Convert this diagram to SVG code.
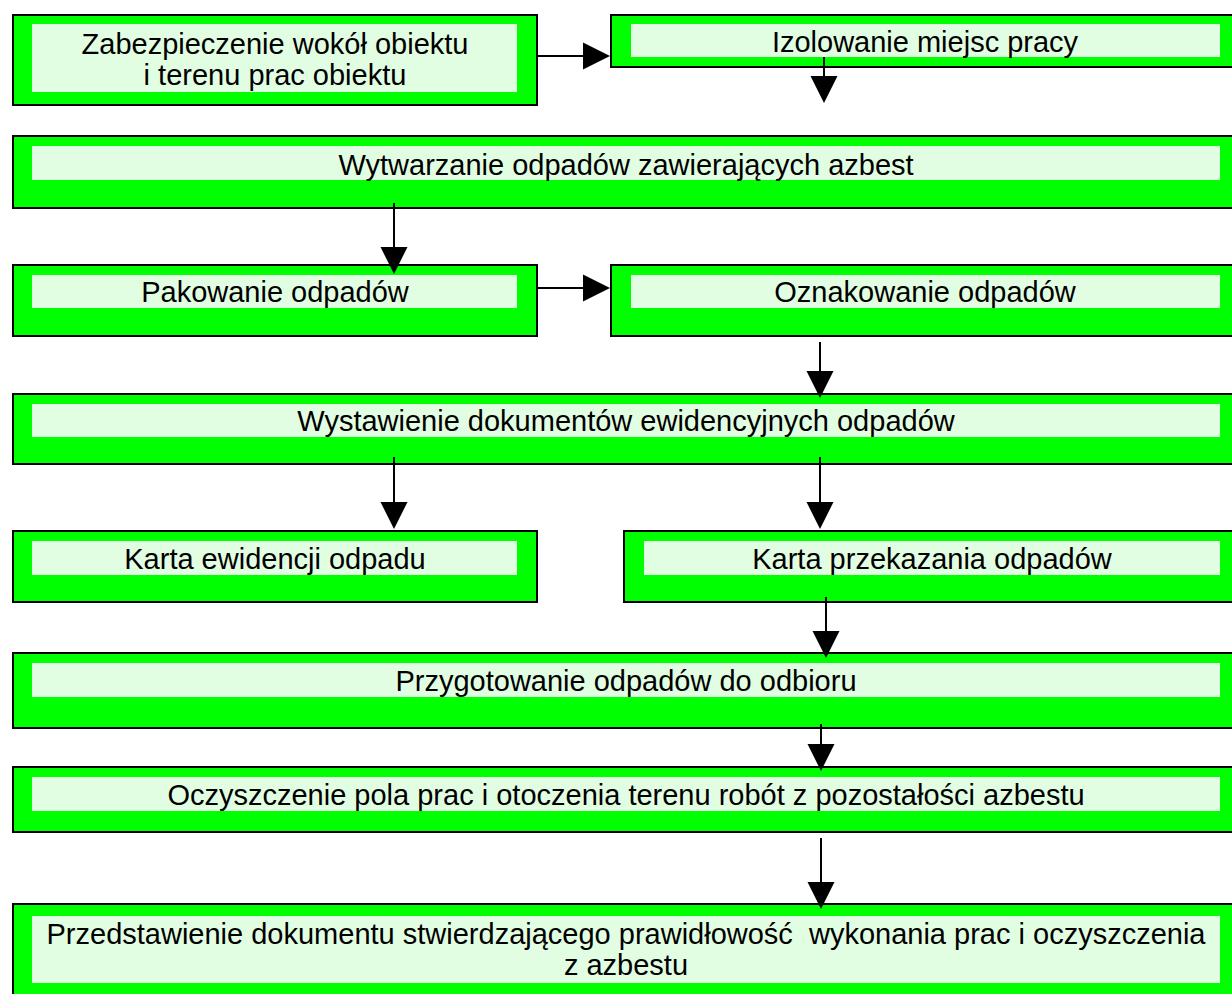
<svg xmlns="http://www.w3.org/2000/svg" width="1232" height="994" viewBox="0 0 1232 994">
<style>
.o{fill:#00FF00;stroke:#000;stroke-width:2}
.i{fill:#E2FEE2}
.t{font-family:"Liberation Sans",Arial,sans-serif;font-size:29px;fill:#000;text-anchor:middle}
.c line{stroke:#000;stroke-width:2}
.c polygon{fill:#000}
</style>
<rect width="1232" height="994" fill="#fff"/>
<g id="n1"><rect class="o" x="13" y="15" width="524" height="90"/><rect class="i" x="32" y="24" width="485" height="68"/><text class="t" x="275" y="54">Zabezpieczenie wokół obiektu</text><text class="t" x="275" y="85">i terenu prac obiektu</text></g>
<g id="n2"><rect class="o" x="611" y="15" width="640" height="52"/><rect class="i" x="631" y="24" width="589" height="33"/><text class="t" x="925" y="52">Izolowanie miejsc pracy</text></g>
<g id="n3"><rect class="o" x="13" y="136" width="1240" height="72"/><rect class="i" x="32" y="146" width="1188" height="34"/><text class="t" x="626" y="175">Wytwarzanie odpadów zawierających azbest</text></g>
<g id="n4"><rect class="o" x="13" y="265" width="524" height="71"/><rect class="i" x="32" y="275" width="485" height="33"/><text class="t" x="275" y="302">Pakowanie odpadów</text></g>
<g id="n5"><rect class="o" x="611" y="265" width="640" height="71"/><rect class="i" x="631" y="275" width="589" height="33"/><text class="t" x="925" y="302">Oznakowanie odpadów</text></g>
<g id="n6"><rect class="o" x="13" y="394" width="1240" height="70"/><rect class="i" x="32" y="404" width="1188" height="33"/><text class="t" x="626" y="431">Wystawienie dokumentów ewidencyjnych odpadów</text></g>
<g id="n7"><rect class="o" x="13" y="531" width="524" height="71"/><rect class="i" x="32" y="541" width="485" height="34"/><text class="t" x="275" y="569">Karta ewidencji odpadu</text></g>
<g id="n8"><rect class="o" x="624" y="531" width="630" height="71"/><rect class="i" x="644" y="541" width="576" height="34"/><text class="t" x="932" y="569">Karta przekazania odpadów</text></g>
<g id="n9"><rect class="o" x="13" y="653" width="1240" height="75"/><rect class="i" x="32" y="663" width="1188" height="34"/><text class="t" x="626" y="691">Przygotowanie odpadów do odbioru</text></g>
<g id="n10"><rect class="o" x="13" y="767" width="1240" height="65"/><rect class="i" x="32" y="777" width="1188" height="34"/><text class="t" x="626" y="805">Oczyszczenie pola prac i otoczenia terenu robót z pozostałości azbestu</text></g>
<g id="n11"><rect class="o" x="13" y="904" width="1240" height="100"/><rect class="i" x="32" y="916" width="1188" height="67"/><text class="t" x="626" y="944" xml:space="preserve">Przedstawienie dokumentu stwierdzającego prawidłowość  wykonania prac i oczyszczenia</text><text class="t" x="626" y="975">z azbestu</text></g>
<g id="connectors" class="c">
<line x1="537" y1="56" x2="584" y2="56"/><polygon points="583,42.5 610,56 583,69.5"/>
<line x1="824" y1="57" x2="824" y2="77"/><polygon points="810.5,76 837.5,76 824,103"/>
<line x1="394" y1="203" x2="394" y2="248"/><polygon points="380.5,247 407.5,247 394,274"/>
<line x1="537" y1="288" x2="584" y2="288"/><polygon points="583,274.5 610,288 583,301.5"/>
<line x1="820" y1="342" x2="820" y2="372"/><polygon points="806.5,371 833.5,371 820,398"/>
<line x1="394" y1="457" x2="394" y2="503"/><polygon points="380.5,502 407.5,502 394,529"/>
<line x1="820" y1="457" x2="820" y2="503"/><polygon points="806.5,502 833.5,502 820,529"/>
<line x1="826" y1="597" x2="826" y2="632"/><polygon points="812.5,631 839.5,631 826,658"/>
<line x1="821" y1="724" x2="821" y2="745"/><polygon points="807.5,744 834.5,744 821,771"/>
<line x1="821" y1="838" x2="821" y2="883"/><polygon points="807.5,882 834.5,882 821,909"/>
</g>
</svg>
